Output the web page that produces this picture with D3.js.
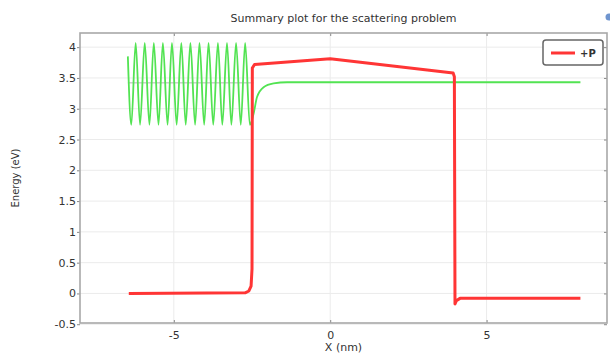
<!DOCTYPE html>
<html>
<head>
<meta charset="utf-8">
<script src="https://cdn.jsdelivr.net/npm/d3@7"></script>
<style>
  body { margin: 0; background: #fff; }
  svg text { font-family: "DejaVu Sans", sans-serif; fill: #333; }
</style>
</head>
<body>
<div id="chart"></div>
<script>
// red curve (+P)
const redX = [-6.44, -2.72, -2.6, -2.53, -2.5, -2.49, -2.42, 0, 3.93, 3.97, 3.99, 4.03, 4.15, 8.0];
const redY = [0, 0.01, 0.04, 0.12, 0.4, 3.66, 3.72, 3.81, 3.58, 3.52, -0.17, -0.12, -0.08, -0.08];

// green wave
const greenX = [-6.47, -6.36, -6.22, -6.08, -5.93, -5.78, -5.64, -5.49, -5.35, -5.20, -5.06, -4.91,
  -4.76, -4.62, -4.47, -4.32, -4.18, -4.03, -3.89, -3.74, -3.59, -3.45, -3.30, -3.16, -3.01, -2.86,
  -2.72, -2.57, -2.45, -2.34, -2.13, -1.81, -1.38, 8.0];
const greenY = [3.85, 2.74, 4.07, 2.74, 4.07, 2.74, 4.07, 2.74, 4.07, 2.74, 4.07, 2.74,
  4.07, 2.74, 4.07, 2.74, 4.07, 2.74, 4.07, 2.74, 4.07, 2.74, 4.07, 2.74, 4.07, 2.74,
  4.07, 2.74, 2.92, 3.19, 3.35, 3.41, 3.43, 3.43];

// grey energy level
const greyX = [-6.47, -2.45];
const greyY = [3.42, 3.42];

const xTicks = [-5, 0, 5];
const yTicks = [-0.5, 0, 0.5, 1, 1.5, 2, 2.5, 3, 3.5, 4];

(function() {
  let width = 610;
  let height = 356;
  let pLeft = 80, pRight = 607, pTop = 33, pBottom = 323;

  let x = d3.scaleLinear().domain([-8, 8.85]).range([pLeft, pRight]);
  let y = d3.scaleLinear().domain([-0.48, 4.23]).range([pBottom, pTop]);

  // plain hyphen for negatives, like the original
  let fmt = d => String(d);

  let svg = d3.select('#chart')
    .append('svg')
    .attr('width', width)
    .attr('height', height);

  // grid
  svg.append('g')
    .selectAll('line')
    .data(yTicks)
    .enter()
    .append('line')
    .attr('x1', pLeft).attr('x2', pRight)
    .attr('y1', d => y(d)).attr('y2', d => y(d))
    .attr('stroke', '#ebebeb');

  svg.append('g')
    .selectAll('line')
    .data(xTicks)
    .enter()
    .append('line')
    .attr('y1', pTop).attr('y2', pBottom)
    .attr('x1', d => x(d)).attr('x2', d => x(d))
    .attr('stroke', '#ebebeb');

  // axes
  let xAxis = d3.axisBottom(x).tickValues(xTicks).tickSize(-3).tickPadding(8).tickFormat(fmt);
  let yAxis = d3.axisLeft(y).tickValues(yTicks).tickSize(3).tickPadding(1).tickFormat(fmt);

  let gx = svg.append('g')
    .attr('transform', 'translate(0,' + pBottom + ')')
    .call(xAxis);
  let gy = svg.append('g')
    .attr('transform', 'translate(' + pLeft + ',0)')
    .call(yAxis);

  svg.append('g')
    .attr('transform', 'translate(0,' + pTop + ')')
    .call(d3.axisTop(x).tickValues(xTicks).tickSize(-3).tickFormat(''));
  svg.append('g')
    .attr('transform', 'translate(' + pRight + ',0)')
    .call(d3.axisRight(y).tickValues(yTicks).tickSize(-3).tickFormat(''));

  svg.selectAll('.domain').remove();
  svg.selectAll('.tick line').attr('stroke', '#888');
  gx.selectAll('text').style('font-size', '11px').attr('fill', '#333');
  gy.selectAll('text').style('font-size', '11px').attr('fill', '#333');

  // plot frame
  svg.append('rect')
    .attr('x', pLeft).attr('y', pTop)
    .attr('width', pRight - pLeft).attr('height', pBottom - pTop)
    .attr('fill', 'none')
    .attr('stroke', '#a8a8a8')
    .attr('stroke-width', 1.6);

  // lines
  let grey = d3.line().x((d, i) => x(greyX[i])).y((d, i) => y(greyY[i]));
  svg.append('path')
    .attr('d', grey(greyX))
    .attr('fill', 'none')
    .attr('stroke', '#b4b4b4')
    .attr('stroke-width', 1);

  let green = d3.line()
    .x((d, i) => x(greenX[i]))
    .y((d, i) => y(greenY[i]))
    .curve(d3.curveMonotoneX);
  svg.append('path')
    .attr('d', green(greenX))
    .attr('fill', 'none')
    .attr('stroke', '#52e352')
    .attr('stroke-width', 1.8);

  let red = d3.line().x((d, i) => x(redX[i])).y((d, i) => y(redY[i]));
  svg.append('path')
    .attr('d', red(redX))
    .attr('fill', 'none')
    .attr('stroke', '#ff3535')
    .attr('stroke-width', 3)
    .attr('stroke-linejoin', 'round');

  // title + labels
  svg.append('text')
    .attr('x', (pLeft + pRight) / 2).attr('y', 22)
    .attr('text-anchor', 'middle')
    .style('font-size', '11px')
    .text('Summary plot for the scattering problem');

  svg.append('text')
    .attr('x', (pLeft + pRight) / 2).attr('y', 351)
    .attr('text-anchor', 'middle')
    .style('font-size', '11px')
    .text('X (nm)');

  svg.append('text')
    .attr('transform', 'translate(19,' + ((pTop + pBottom) / 2) + ') rotate(-90)')
    .attr('text-anchor', 'middle')
    .style('font-size', '10px')
    .text('Energy (eV)');

  // legend
  let lg = svg.append('g').attr('transform', 'translate(543,40)');
  lg.append('rect')
    .attr('width', 60).attr('height', 25)
    .attr('rx', 3)
    .attr('fill', '#fff')
    .attr('stroke', '#666')
    .attr('stroke-width', 1.5);
  lg.append('line')
    .attr('x1', 8).attr('x2', 32)
    .attr('y1', 13).attr('y2', 13)
    .attr('stroke', '#ff3535')
    .attr('stroke-width', 3);
  lg.append('text')
    .attr('x', 37).attr('y', 17)
    .style('font-size', '10px')
    .style('font-weight', 'bold')
    .attr('fill', '#444')
    .text('+P');

  // clipped icon at top right corner
  svg.append('circle')
    .attr('cx', 609).attr('cy', 17)
    .attr('r', 3.5)
    .attr('fill', '#6f95cf');
})();
</script>
</body>
</html>
